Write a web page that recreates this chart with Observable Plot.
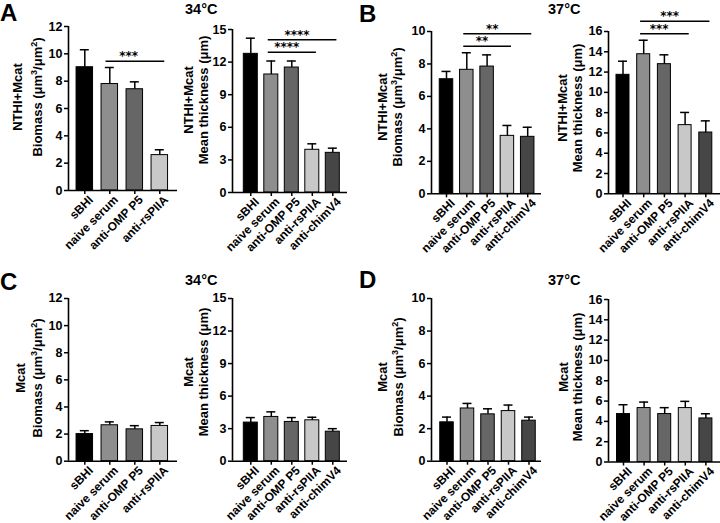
<!DOCTYPE html>
<html><head><meta charset="utf-8">
<script src="https://cdn.jsdelivr.net/npm/d3@7"></script>
<script src="https://cdn.jsdelivr.net/npm/@observablehq/plot@0.6"></script>
<style>
html,body{margin:0;padding:0;background:#fff;overflow:hidden;}
#fig{position:relative;width:720px;height:523px;overflow:hidden;font-family:"Liberation Sans",Arial,sans-serif;background:#fff;}
#fig svg{position:absolute;}
</style></head><body><div id="fig"></div>
<script>
// ---------- data ----------
const groups4 = ["sBHI", "naive serum", "anti-OMP P5", "anti-rsPIIA"];
const groups5 = ["sBHI", "naive serum", "anti-OMP P5", "anti-rsPIIA", "anti-chimV4"];
const groupFills = ["#000000", "#8e8e8e", "#666666", "#c8c8c8", "#464646"];

// A: NTHI+Mcat, 34°C
const aBiomassMean = [9.02, 7.79, 7.41, 2.59];
const aBiomassUpper = [10.3, 9.0, 7.95, 2.98];
const aThickMean = [12.76, 10.86, 11.5, 3.93, 3.65];
const aThickUpper = [14.2, 12.1, 12.1, 4.48, 4.08];
// B: NTHI+Mcat, 37°C
const bBiomassMean = [7.06, 7.64, 7.84, 3.57, 3.51];
const bBiomassUpper = [7.54, 8.69, 8.56, 4.21, 4.1];
const bThickMean = [11.73, 13.76, 12.78, 6.77, 6.04];
const bThickUpper = [13.07, 15.14, 13.7, 8.02, 7.19];
// C: Mcat, 34°C
const cBiomassMean = [2.0, 2.65, 2.35, 2.6];
const cBiomassUpper = [2.25, 2.9, 2.62, 2.85];
const cThickMean = [3.56, 4.08, 3.62, 3.77, 2.72];
const cThickUpper = [4.02, 4.55, 4.02, 4.05, 3.0];
// D: Mcat, 37°C
const dBiomassMean = [2.39, 3.24, 2.88, 3.08, 2.49];
const dBiomassUpper = [2.71, 3.55, 3.22, 3.45, 2.71];
const dThickMean = [4.72, 5.31, 4.72, 5.31, 4.29];
const dThickUpper = [5.64, 5.9, 5.35, 5.97, 4.75];

// significance brackets: [from, to, height, stars]
const aBiomassSig = [["naive serum", "anti-rsPIIA", 9.46, "***"]];
const aThickSig = [["naive serum", "anti-rsPIIA", 12.9, "****"], ["naive serum", "anti-chimV4", 14.05, "****"]];
const bBiomassSig = [["naive serum", "anti-rsPIIA", 9.09, "**"], ["naive serum", "anti-chimV4", 9.86, "**"]];
const bThickSig = [["naive serum", "anti-rsPIIA", 15.78, "***"], ["naive serum", "anti-chimV4", 17.0, "***"]];

// tick values
const biomass12Ticks = [0, 2, 4, 6, 8, 10, 12];
const biomass10Ticks = [0, 2, 4, 6, 8, 10];
const thick15Ticks = [0, 3, 6, 9, 12, 15];
const thick16Ticks = [0, 2, 4, 6, 8, 10, 12, 14, 16];

// ---------- layout (page pixels) ----------
const L = {
  A1: {axisX: 68, xEnd: 177, y0: 190, yTop: 26, c0: 84.3, step: 25, bw: 16.5},
  A2: {axisX: 232, xEnd: 347, y0: 192, yTop: 29, c0: 250.3, step: 20.5, bw: 14},
  B1: {axisX: 431, xEnd: 541, y0: 193.3, yTop: 31, c0: 446, step: 20.3, bw: 13.5},
  B2: {axisX: 608, xEnd: 722, y0: 193.3, yTop: 31, c0: 622.5, step: 20.7, bw: 13},
  C1: {axisX: 68, xEnd: 177, y0: 461, yTop: 298.3, c0: 84.3, step: 25, bw: 16.5},
  C2: {axisX: 232, xEnd: 347, y0: 461, yTop: 298.3, c0: 250.3, step: 20.5, bw: 14},
  D1: {axisX: 431, xEnd: 541, y0: 461, yTop: 298.3, c0: 446.5, step: 20.5, bw: 13.5},
  D2: {axisX: 608, xEnd: 722, y0: 461.5, yTop: 299, c0: 623, step: 20.6, bw: 13}
};

const fig = document.getElementById("fig");
const FONT = "'Liberation Sans', Arial, Helvetica, sans-serif";

function panel(lay, cats, means, uppers, ticks, sig) {
  const ml = 34, mr = 4, mt = 40, mb = Math.min(80, 523 - lay.y0);
  const W = lay.xEnd - lay.axisX, H = lay.y0 - lay.yTop;
  const xlo = (lay.axisX - lay.c0) / lay.step, xhi = (lay.xEnd - lay.c0) / lay.step;
  const hw = lay.bw / 2 / lay.step, cw = 4.5 / lay.step;
  const ymax = ticks[ticks.length - 1];
  const rows = cats.map((c, i) => ({c, i, m: means[i], e: uppers[i]}));
  const sigRows = (sig || []).map(([f, t, y, s]) => {
    const a = cats.indexOf(f), b = cats.indexOf(t);
    return {x1: a - 0.15, x2: b + 0.2, xm: (a + b - 0.5) / 2, y, s};
  });
  const svg = Plot.plot({
    width: ml + W + mr, height: mt + H + mb,
    marginLeft: ml, marginRight: mr, marginTop: mt, marginBottom: mb,
    x: {type: "linear", domain: [xlo, xhi]},
    y: {domain: [0, ymax]},
    color: {domain: groups5, range: groupFills},
    style: {fontFamily: FONT, background: "transparent", overflow: "visible", color: "#000"},
    marks: [
      Plot.rectY(rows, {x1: d => d.i - hw, x2: d => d.i + hw, y1: 0, y2: "m", fill: "c", stroke: "#000", strokeWidth: 1}),
      Plot.ruleX(rows, {x: "i", y1: "m", y2: "e", stroke: "#000", strokeWidth: 1.5}),
      Plot.ruleY(rows, {y: "e", x1: d => d.i - cw, x2: d => d.i + cw, stroke: "#000", strokeWidth: 1.5}),
      Plot.ruleY([0], {stroke: "#000", strokeWidth: 1.6}),
      Plot.ruleX([xlo], {stroke: "#000", strokeWidth: 1.6}),
      Plot.axisY({ticks, tickSize: 4, tickPadding: 2, fontSize: 12.5, fontWeight: "bold", label: null, strokeWidth: 1.5}),
      Plot.axisX({ticks: cats.map((c, i) => i), tickFormat: () => "", tickSize: 4, label: null, strokeWidth: 1.5}),
      Plot.text(rows, {x: "i", y: 0, text: "c", rotate: -45, textAnchor: "end", lineAnchor: "top", dx: 3, dy: 4, fontSize: 12, fontWeight: "bold"}),
      Plot.ruleY(sigRows, {y: "y", x1: "x1", x2: "x2", stroke: "#000", strokeWidth: 1.5}),
      Plot.text(sigRows, {x: "xm", y: "y", text: "s", fontSize: 12, fontWeight: "bold", fontFamily: "'DejaVu Sans', sans-serif", dy: -5})
    ]
  });
  svg.style.left = (lay.axisX - ml) + "px";
  svg.style.top = (lay.yTop - mt) + "px";
  fig.appendChild(svg);
}

panel(L.A1, groups4, aBiomassMean, aBiomassUpper, biomass12Ticks, aBiomassSig);
panel(L.A2, groups5, aThickMean, aThickUpper, thick15Ticks, aThickSig);
panel(L.B1, groups5, bBiomassMean, bBiomassUpper, biomass10Ticks, bBiomassSig);
panel(L.B2, groups5, bThickMean, bThickUpper, thick16Ticks, bThickSig);
panel(L.C1, groups4, cBiomassMean, cBiomassUpper, biomass12Ticks, null);
panel(L.C2, groups5, cThickMean, cThickUpper, thick15Ticks, null);
panel(L.D1, groups5, dBiomassMean, dBiomassUpper, biomass10Ticks, null);
panel(L.D2, groups5, dThickMean, dThickUpper, thick16Ticks, null);

// ---------- overlay text: panel letters, temperatures, y-axis titles ----------
const ov = d3.select(fig).append("svg").attr("width", 720).attr("height", 523)
  .style("left", "0px").style("top", "0px").style("font-family", FONT).style("pointer-events", "none");

const letters = [["A", 0, 21], ["B", 359, 22], ["C", 0, 290], ["D", 359, 288]];
ov.selectAll("text.letter").data(letters).join("text").attr("class", "letter")
  .attr("x", d => d[1]).attr("y", d => d[2]).text(d => d[0])
  .attr("font-size", 24).attr("font-weight", "bold");

const temps = [["34°C", 185, 14], ["37°C", 548, 14], ["34°C", 185, 285], ["37°C", 548, 285]];
ov.selectAll("text.temp").data(temps).join("text").attr("class", "temp")
  .attr("x", d => d[1]).attr("y", d => d[2]).text(d => d[0])
  .attr("font-size", 14.5).attr("font-weight", "bold");

function ylabel(line1, kind, bx1, bx2, cy) {
  const g = ov.append("g").attr("font-weight", "bold").attr("font-size", 13).attr("text-anchor", "middle");
  g.append("text").attr("transform", `translate(${bx1},${cy}) rotate(-90)`).text(line1);
  const t = g.append("text").attr("transform", `translate(${bx2},${cy}) rotate(-90)`);
  if (kind === "biomass") {
    t.append("tspan").text("Biomass (μm");
    t.append("tspan").attr("baseline-shift", "super").attr("font-size", 9).text("3");
    t.append("tspan").text("/μm");
    t.append("tspan").attr("baseline-shift", "super").attr("font-size", 9).text("2");
    t.append("tspan").text(")");
  } else {
    t.text("Mean thickness (μm)");
  }
}
ylabel("NTHI+Mcat", "biomass", 22, 42, 97);
ylabel("NTHI+Mcat", "thick", 193, 208, 100);
ylabel("NTHI+Mcat", "biomass", 387, 402, 107);
ylabel("NTHI+Mcat", "thick", 567, 582, 108);
ylabel("Mcat", "biomass", 25, 42, 378);
ylabel("Mcat", "thick", 193, 208, 372);
ylabel("Mcat", "biomass", 387, 403, 377);
ylabel("Mcat", "thick", 568, 582, 377);
</script>
</body></html>
